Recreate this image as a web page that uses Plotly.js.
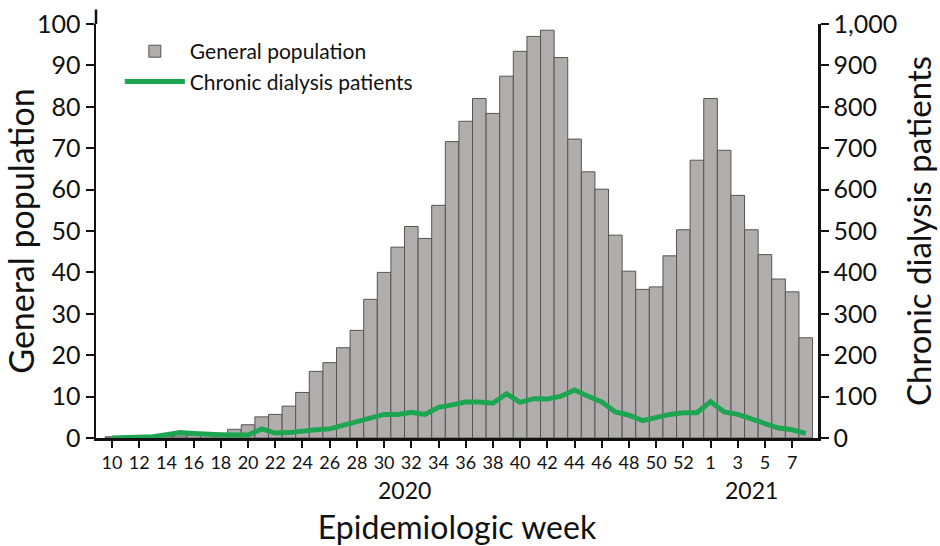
<!DOCTYPE html>
<html>
<head>
<meta charset="utf-8">
<script src="https://cdn.plot.ly/plotly-3.0.1.min.js"></script>
<style>html,body{margin:0;padding:0;background:#fff;}#chart{width:940px;height:546px;}</style>
</head>
<body>
<div id="chart"></div>
<script>
// Epidemiologic weeks: 2020 weeks 10-53, 2021 weeks 1-8
const weeks = ['10','11','12','13','14','15','16','17','18','19','20','21','22','23','24','25','26','27','28','29','30','31','32','33','34','35','36','37','38','39','40','41','42','43','44','45','46','47','48','49','50','51','52','53','1','2','3','4','5','6','7','8'];
// General population (left axis)
const generalPopulation = [0.3,0.2,0.5,0.5,0.4,0.5,0.7,0.8,1.0,2.1,3.2,5.1,5.7,7.7,11.0,16.1,18.2,21.8,26.0,33.5,40.0,46.1,51.1,48.2,56.2,71.6,76.5,82.0,78.4,87.4,93.4,97.0,98.5,91.9,72.2,64.3,60.1,49.0,40.3,35.9,36.5,44.0,50.3,67.1,82.0,69.5,58.6,50.3,44.3,38.4,35.3,24.2];
// Chronic dialysis patients (right axis)
const dialysisPatients = [0,0,1,3,8,13,11,8,8,7,7,22,12,13,18,20,22,30,40,49,57,57,62,57,74,80,87,87,84,107,86,95,94,101,116,101,87,63,55,42,51,57,61,61,88,63,57,45,36,24,20,11];
const tickLabels = ['10','12','14','16','18','20','22','24','26','28','30','32','34','36','38','40','42','44','46','48','50','52','1','3','5','7'];
const yearLabels = ['2020','2021'];
const yearCenterWeeks = ['31','4'];
const yearCenterOffsets = [0.5, 0];

const FONT = 'Lato, "Open Sans", "DejaVu Sans", sans-serif';

const traces = [
  {
    type: 'bar', name: 'General population', x: weeks, y: generalPopulation,
    marker: {color: '#b1adac', line: {color: '#555555', width: 1}},
    yaxis: 'y'
  },
  {
    type: 'scatter', mode: 'lines', name: 'Chronic dialysis patients', x: weeks, y: dialysisPatients,
    line: {color: '#1ea552', width: 5, shape: 'linear'},
    yaxis: 'y2'
  }
];

const layout = {
  width: 940, height: 546,
  margin: {l: 96, r: 122, t: 24, b: 108},
  paper_bgcolor: '#fff', plot_bgcolor: '#fff',
  font: {family: FONT, color: '#111'},
  bargap: 0,
  showlegend: true,
  legend: {x: 0.033, y: 0.983, xanchor: 'left', yanchor: 'top', bgcolor: 'rgba(0,0,0,0)',
           font: {size: 21, family: FONT, color: '#111'}, itemwidth: 60, tracegroupgap: 0},
  xaxis: {
    type: 'category', categoryorder: 'array', categoryarray: weeks,
    range: [-1.18, 51.9],
    tickmode: 'array', tickvals: tickLabels, ticktext: tickLabels,
    ticks: 'outside', ticklen: 7, tickwidth: 2, tickcolor: '#111',
    showline: true, linecolor: '#111', linewidth: 2.5,
    showgrid: false, zeroline: false,
    tickfont: {size: 18, family: FONT, color: '#111'},
    title: {text: 'Epidemiologic week', font: {size: 32, family: FONT, color: '#111'}, standoff: 58}
  },
  yaxis: {
    range: [0, 100], tickmode: 'linear', tick0: 0, dtick: 10,
    ticks: 'outside', ticklen: 8, tickwidth: 2, tickcolor: '#111',
    showline: true, linecolor: '#111', linewidth: 2.5,
    showgrid: false, zeroline: false,
    tickfont: {size: 25, family: FONT, color: '#111'},
    title: {text: 'General population', font: {size: 34, family: FONT, color: '#111'}, standoff: 8}
  },
  yaxis2: {
    overlaying: 'y', side: 'right', range: [0, 1000], tickmode: 'linear', tick0: 0, dtick: 100,
    tickformat: ',d',
    ticks: 'outside', ticklen: 8, tickwidth: 2, tickcolor: '#111',
    showline: true, linecolor: '#111', linewidth: 2.5,
    showgrid: false, zeroline: false,
    tickfont: {size: 25, family: FONT, color: '#111'},
    title: {text: 'Chronic dialysis patients', font: {size: 33, family: FONT, color: '#111'}, standoff: 12}
  },
  annotations: yearLabels.map((t, i) => ({
    text: t, x: weeks.indexOf(yearCenterWeeks[i]) + yearCenterOffsets[i], xref: 'x', y: -0.125, yref: 'paper',
    showarrow: false, xanchor: 'center', yanchor: 'middle',
    font: {size: 23, family: FONT, color: '#111'}
  })),
  shapes: [
    {type: 'line', xref: 'paper', yref: 'paper', x0: 0, x1: 0, y0: 1, y1: 1.035, line: {color: '#111', width: 2.5}}
  ]
};

Plotly.newPlot('chart', traces, layout, {displayModeBar: false, staticPlot: true});
</script>
</body>
</html>
